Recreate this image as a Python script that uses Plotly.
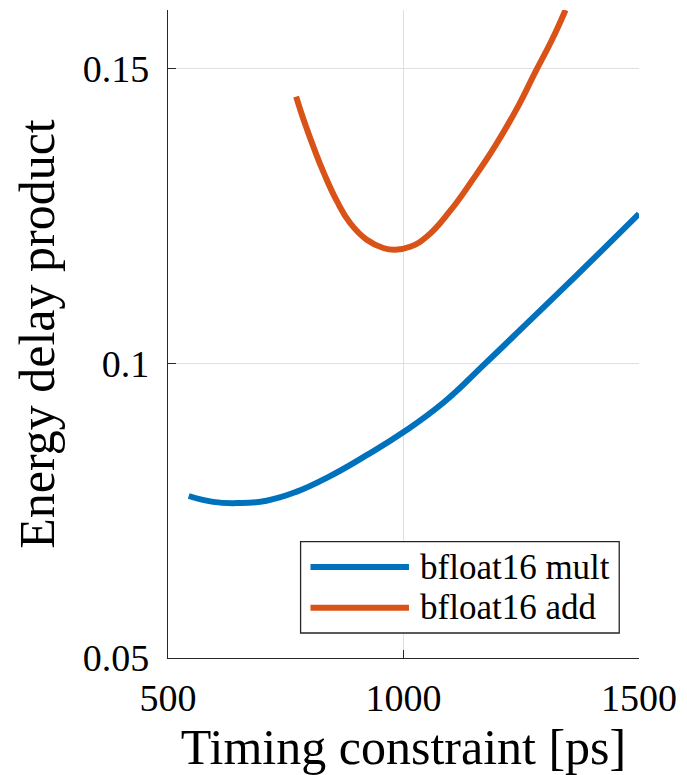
import plotly.graph_objects as go

# Data
mult_name = "bfloat16 mult"
mult_x = [544, 596, 649, 709, 772, 842, 919, 1001, 1087, 1171, 1262, 1368, 1500]
mult_y = [0.0775, 0.0765, 0.0763, 0.0767, 0.0782, 0.0808, 0.0843, 0.0884, 0.0935,
          0.0998, 0.1068, 0.1150, 0.1254]

add_name = "bfloat16 add"
add_x = [772, 789, 810, 831, 859, 887, 922, 957, 982, 1014, 1049, 1098, 1147,
         1196, 1245, 1280, 1315, 1344]
add_y = [0.1453, 0.1411, 0.1365, 0.1323, 0.1275, 0.1238, 0.1210, 0.1196, 0.1193,
         0.1198, 0.1215, 0.1258, 0.1312, 0.1371, 0.1439, 0.1495, 0.1549, 0.1600]

x_ticks = [500, 1000, 1500]
x_tick_labels = ["500", "1000", "1500"]
y_ticks = [0.05, 0.1, 0.15]
y_tick_labels = ["0.05", "0.1", "0.15"]

BLUE = "#0072BD"
ORANGE = "#D95319"
AX = "#262626"
FONT = "Liberation Serif"

fig = go.Figure()
fig.add_trace(go.Scatter(x=mult_x, y=mult_y, mode="lines", name=mult_name,
                         line=dict(color=BLUE, width=6, shape="spline", smoothing=1.3),
                         showlegend=False))
fig.add_trace(go.Scatter(x=add_x, y=add_y, mode="lines", name=add_name,
                         line=dict(color=ORANGE, width=6, shape="spline", smoothing=1.3),
                         showlegend=False))

# Manual MATLAB-style legend (box, line samples, labels) in paper coordinates
leg = dict(x0=0.2815, x1=0.958, y0=0.0386, y1=0.1795)
fig.add_shape(type="rect", xref="paper", yref="paper", x0=leg["x0"], x1=leg["x1"],
              y0=leg["y0"], y1=leg["y1"], line=dict(color=AX, width=1.3),
              fillcolor="white", layer="above")
for name, color, yy in [(mult_name, BLUE, 0.1404), (add_name, ORANGE, 0.0776)]:
    fig.add_shape(type="line", xref="paper", yref="paper", x0=0.3025, x1=0.5116,
                  y0=yy, y1=yy, line=dict(color=color, width=6), layer="above")
    fig.add_annotation(xref="paper", yref="paper", x=0.5305, y=yy, text=name,
                       showarrow=False, xanchor="left", yanchor="middle",
                       font=dict(family=FONT, size=35, color="black"))

fig.update_layout(
    width=687, height=775,
    margin=dict(l=168, r=44, t=10, b=117),
    paper_bgcolor="white", plot_bgcolor="white",
    font=dict(family=FONT, color=AX),
    showlegend=False,
)
fig.update_xaxes(
    range=[500, 1500], tickvals=x_ticks, ticktext=x_tick_labels,
    showline=True, linecolor=AX, linewidth=1.3, mirror=False,
    ticks="inside", ticklen=8, tickcolor=AX, tickwidth=1.3,
    showgrid=True, gridcolor="#dfdfdf", gridwidth=1, zeroline=False,
    tickfont=dict(family=FONT, size=38, color="black"),
    ticklabelstandoff=6,
    title=dict(text="Timing constraint [ps]", font=dict(family=FONT, size=50, color="black"),
               standoff=8),
)
fig.update_yaxes(
    range=[0.05, 0.16], tickvals=y_ticks, ticktext=y_tick_labels,
    showline=True, linecolor=AX, linewidth=1.3, mirror=False,
    ticks="inside", ticklen=8, tickcolor=AX, tickwidth=1.3,
    showgrid=True, gridcolor="#dfdfdf", gridwidth=1, zeroline=False,
    tickfont=dict(family=FONT, size=38, color="black"),
    ticklabelstandoff=10,
    title=dict(text="Energy delay product", font=dict(family=FONT, size=50, color="black"),
               standoff=12),
)

fig.write_html("out.html")
